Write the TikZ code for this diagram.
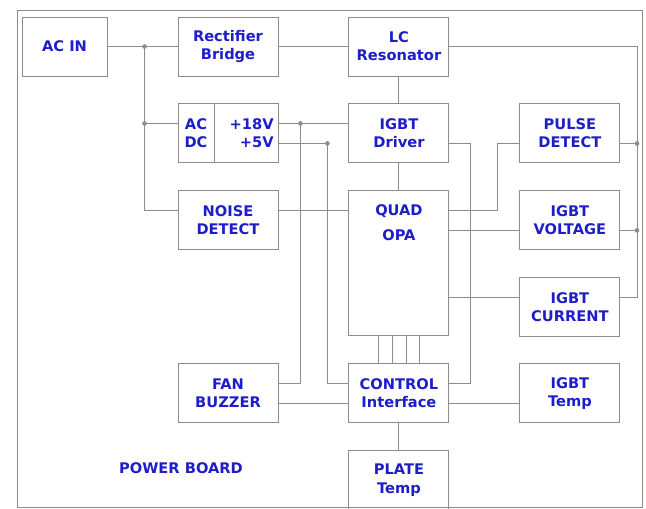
\documentclass[tikz,border=0pt]{standalone}
\usepackage{fontspec}
\setmainfont{DejaVu Sans}
\usetikzlibrary{positioning}
\definecolor{wireGray}{RGB}{145,140,135}
\definecolor{labelBlue}{RGB}{30,30,200}

\begin{document}
\begin{tikzpicture}[
  node distance=0.81cm and 2.1cm,
  caption/.style={text=labelBlue, align=center, font=\fontsize{12.5}{15.5}\selectfont\bfseries},
  block/.style={caption, draw=wireGray, line width=0.8pt, minimum width=3cm, minimum height=1.77cm, inner sep=2pt},
  wire/.style={draw=wireGray, line width=0.8pt}
]
\useasboundingbox (0,0) rectangle (19.38,-15.24);
\draw[wire] (0.51,-0.30) rectangle (19.26,-15.21);

% top row
\node[block] (rect) at (6.84,-1.395) {Rectifier\\Bridge};
\node[block, minimum width=2.55cm] (acin) [left=of rect] {AC IN};
\node[block] (lc) [right=of rect] {LC\\Resonator};

% power supply and noise
\node[block, minimum width=1.08cm] (acl) [below right=0.81cm and 0cm of rect.south west] {AC\\DC};
\node[block, minimum width=1.92cm, text width=1.6cm, align=right] (acr) [right=0pt of acl] {+18V\\+5V};
\node[block] (noise) [below right=0.81cm and 0cm of acl.south west] {NOISE\\DETECT};

% middle column
\node[block] (drv) [below=of lc] {IGBT\\Driver};
\node[block, minimum height=4.35cm] (opa) [below=of drv] {};
\node[caption, anchor=north] (opatxt) at ([yshift=-0.3cm]opa.north) {QUAD\\[6pt]OPA};
\node[block] (ctrl) [below=of opa] {CONTROL\\Interface};
\node[block] (plate) [below=of ctrl] {PLATE\\Temp};
\node[block] (fan) [left=of ctrl] {FAN\\BUZZER};

% right column
\node[block] (pulse) [right=of drv] {PULSE\\DETECT};
\node[block] (volt) [below=of pulse] {IGBT\\VOLTAGE};
\node[block] (curr) [below=of volt] {IGBT\\CURRENT};
\node[block] (igtemp) [right=of ctrl] {IGBT\\Temp};

\node[caption] (board) at (5.43,-14.04) {POWER BOARD};

% pins
\coordinate (tapAC) at ([xshift=1.11cm]acin.east);
\coordinate (acIn) at ([yshift=3mm]acl.west);
\coordinate (out18) at ([yshift=3mm]acr.east);
\coordinate (out5) at ([yshift=-3mm]acr.east);
\coordinate (tap18) at ([xshift=0.63cm]out18);
\coordinate (tap5) at ([xshift=1.44cm]out5);
\coordinate (noiseOut) at ([yshift=3mm]noise.east);
\coordinate (drvOut) at ([yshift=-3mm]drv.east);
\coordinate (busD) at ([xshift=0.63cm]drvOut);
\coordinate (pulseIn) at ([yshift=-3mm]pulse.west);
\coordinate (pulseOut) at ([yshift=-3mm]pulse.east);
\coordinate (voltIn) at ([yshift=-3mm]volt.west);
\coordinate (voltOut) at ([yshift=-3mm]volt.east);
\coordinate (currIn) at ([yshift=3mm]curr.west);
\coordinate (currOut) at ([yshift=3mm]curr.east);
\coordinate (busR) at ([xshift=0.5cm]pulseOut);

% mains side
\draw[wire] (acin) -- (rect);
\draw[wire] (rect) -- (lc);
\draw[wire] (tapAC) |- (noiseOut -| noise.west);
\draw[wire] (tapAC |- acIn) -- (acIn);
\fill[wireGray] (tapAC) circle (2pt) (tapAC |- acIn) circle (2pt);

% supply rails
\draw[wire] (out18) -- ([yshift=3mm]drv.west);
\draw[wire] (tap18) |- ([yshift=3mm]fan.east);
\draw[wire] (out5) -- (tap5) |- ([yshift=3mm]ctrl.west);
\fill[wireGray] (tap18) circle (2pt) (tap5) circle (2pt);
\draw[wire] ([yshift=-3mm]fan.east) -- ([yshift=-3mm]ctrl.west);

% signals
\draw[wire] (noiseOut) -- (noiseOut -| opa.west);
\draw[wire] (lc) -- (drv);
\draw[wire] (drv) -- (opa);
\draw[wire] (drvOut) -- (busD) |- ([yshift=3mm]ctrl.east);
\draw[wire] (noiseOut -| opa.east) -| ([xshift=-0.66cm]pulseIn) -- (pulseIn);
\draw[wire] (voltIn -| opa.east) -- (voltIn);
\draw[wire] (currIn -| opa.east) -- (currIn);
\draw[wire] (lc.east) -| (busR |- currOut) -- (currOut);
\draw[wire] (pulseOut) -- (busR);
\draw[wire] (voltOut) -- (voltOut -| busR);
\fill[wireGray] (busR) circle (2pt) (voltOut -| busR) circle (2pt);
\draw[wire] ([yshift=-3mm]ctrl.east) -- ([yshift=-3mm]igtemp.west);
\draw[wire] (ctrl) -- (plate);
\foreach \dx in {-0.615,-0.195,0.225,0.615}
  \draw[wire] ([xshift=\dx cm]opa.south) -- ([xshift=\dx cm]ctrl.north);
\end{tikzpicture}
\end{document}
